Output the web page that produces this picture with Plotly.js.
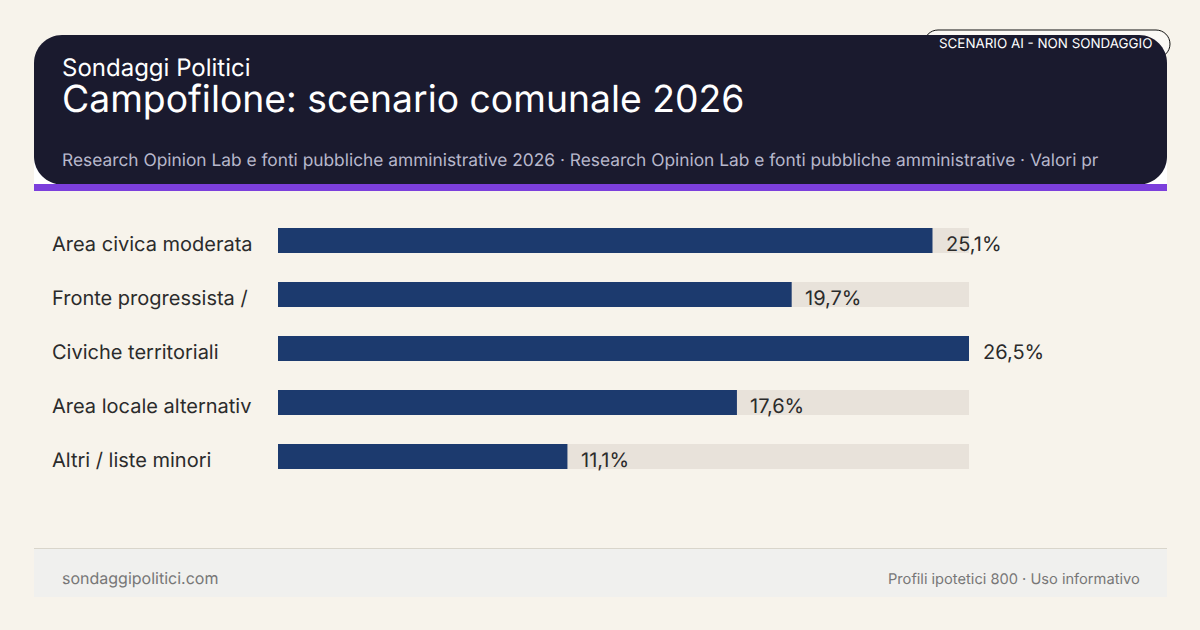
<!DOCTYPE html>
<html><head><meta charset="utf-8">
<script src="https://cdn.plot.ly/plotly-3.0.1.min.js"></script>
<style>html,body{margin:0;padding:0;background:#f7f3eb}#c{width:1200px;height:630px}svg text{text-rendering:geometricPrecision}</style>
</head><body><div id="c"></div>
<script>
const categories = ["Area civica moderata","Fronte progressista /","Civiche territoriali","Area locale alternativ","Altri / liste minori"];
const values = [25.1,19.7,26.5,17.6,11.1];
const valueLabels = ["25,1%","19,7%","26,5%","17,6%","11,1%"];
const trackMax = 26.5;
const W=1200,H=630;
const px=x=>x/W, py=y=>1-y/H;
const font="Inter, sans-serif";
function rr(x0,y0,x1,y1,r){const k=r*0.4477;const P=(x,y)=>`${px(x)},${py(y)}`;return `M${P(x0+r,y0)} L${P(x1-r,y0)} C${P(x1-k,y0)} ${P(x1,y0+k)} ${P(x1,y0+r)} L${P(x1,y1-r)} C${P(x1,y1-k)} ${P(x1-k,y1)} ${P(x1-r,y1)} L${P(x0+r,y1)} C${P(x0+k,y1)} ${P(x0,y1-k)} ${P(x0,y1-r)} L${P(x0,y0+r)} C${P(x0,y0+k)} ${P(x0+k,y0)} ${P(x0+r,y0)} Z`;}
const shapes=[
 {type:'rect',xref:'paper',yref:'paper',x0:px(34),x1:px(1167),y0:py(150),y1:py(185),fillcolor:'#ffffff',line:{width:0},layer:'below'},
 {type:'path',xref:'paper',yref:'paper',path:rr(924,30,1170,58,14),fillcolor:'#fbf9f5',line:{color:'#111111',width:1},layer:'below'},
 {type:'path',xref:'paper',yref:'paper',path:rr(34,35,1167,184.5,28),fillcolor:'#1a1a2e',line:{width:0},layer:'below'},
 {type:'rect',xref:'paper',yref:'paper',x0:px(34),x1:px(1167),y0:py(184),y1:py(191),fillcolor:'#7c3fdc',line:{width:0},layer:'below'},
 {type:'rect',xref:'paper',yref:'paper',x0:px(34),x1:px(1167),y0:py(548),y1:py(597),fillcolor:'#f0f0ee',line:{width:0},layer:'below'},
 {type:'line',xref:'paper',yref:'paper',x0:px(34),x1:px(1167),y0:py(548.5),y1:py(548.5),line:{color:'#d9d5cb',width:1},layer:'below'}
];
function t(text,x,y,size,color,anchor){return {text,xref:'paper',yref:'paper',x:px(x),y:py(y),xanchor:anchor||'left',yanchor:'middle',showarrow:false,font:{family:font,size,color},borderpad:0,borderwidth:0};}
const annotations=[
 t("Sondaggi Politici",62,67.5,24,'#ffffff'),
 t("Campofilone: scenario comunale 2026",62,98.5,37.3,'#ffffff'),
 t("Research Opinion Lab e fonti pubbliche amministrative 2026 · Research Opinion Lab e fonti pubbliche amministrative · Valori pr",62,160.5,17.34,'#b8b8cc'),
 t("SCENARIO AI - NON SONDAGGIO",1152,44.5,13.4,'#ffffff','right'),
 t("sondaggipolitici.com",62,578,16,'#777777'),
 t("Profili ipotetici 800 · Uso informativo",1140,579,14.65,'#777777','right')
];
categories.forEach((c,i)=>{
 annotations.push({text:c,xref:'paper',yref:'y',x:px(51),y:c,xanchor:'left',yanchor:'middle',yshift:-3.5,borderpad:0,showarrow:false,font:{family:font,size:20,color:'#2b2b2b'}});
 annotations.push({text:valueLabels[i],xref:'x',yref:'y',x:values[i],y:c,xanchor:'left',yanchor:'middle',xshift:12.5,yshift:-3.5,borderpad:0,showarrow:false,font:{family:font,size:20,color:'#2b2b2b'}});
});
const data=[
 {type:'bar',orientation:'h',y:categories,x:categories.map(()=>trackMax),marker:{color:'#e8e2da',line:{width:0}},hoverinfo:'skip'},
 {type:'bar',orientation:'h',y:categories,x:values,marker:{color:'#1c3a6e',line:{width:0}}}
];
const layout={width:W,height:H,margin:{l:0,r:0,t:0,b:0,pad:0},paper_bgcolor:'#f7f3eb',plot_bgcolor:'rgba(0,0,0,0)',showlegend:false,barmode:'overlay',bargap:1-25/54,
 xaxis:{domain:[px(278),px(969)],range:[0,trackMax],visible:false,fixedrange:true},
 yaxis:{domain:[py(483.5),py(213.5)],type:'category',categoryorder:'array',categoryarray:categories,range:[4.5,-0.5],visible:false,fixedrange:true},
 shapes,annotations,font:{family:font}};
Plotly.newPlot('c',data,layout,{staticPlot:true,displayModeBar:false});
</script></body></html>
